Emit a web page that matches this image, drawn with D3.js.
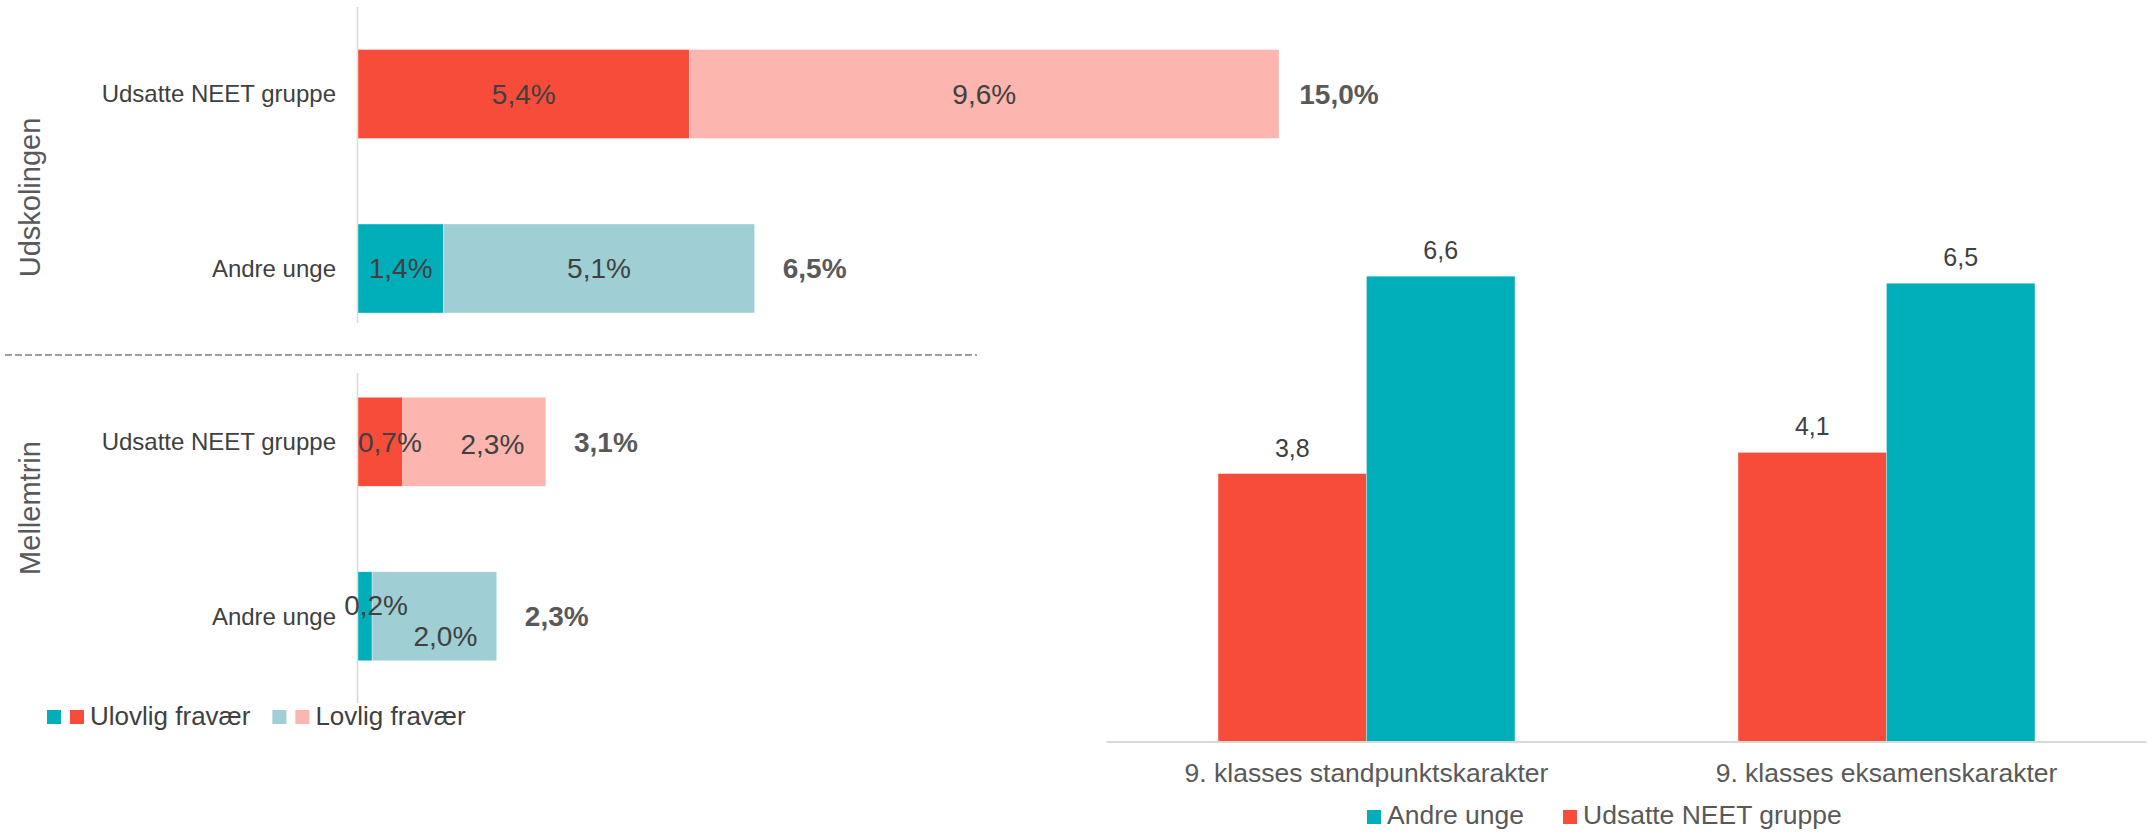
<!DOCTYPE html>
<html>
<head>
<meta charset="utf-8">
<script src="https://cdn.jsdelivr.net/npm/d3@7"></script>
<style>
  html, body { margin: 0; padding: 0; background: #ffffff; }
  svg { display: block; font-family: "Liberation Sans", Arial, Helvetica, sans-serif; }
</style>
</head>
<body>
<svg id="chart" width="2154" height="832"></svg>
<script>
// ---------------- DATA ----------------
const leftGroups = ["Udskolingen", "Mellemtrin"];
const leftCategories = ["Udsatte NEET gruppe", "Andre unge"];
const leftSeries = ["Ulovlig fravær", "Lovlig fravær"];
const ulovligUdskolingen = [5.4, 1.39];
const lovligUdskolingen = [9.6, 5.07];
const ulovligMellemtrin = [0.73, 0.23];
const lovligMellemtrin = [2.33, 2.03];

const rightCategories = ["9. klasses standpunktskarakter", "9. klasses eksamenskarakter"];
const rightSeries = ["Udsatte NEET gruppe", "Andre unge"];
const udsatteKarakter = [3.8, 4.1];
const andreKarakter = [6.6, 6.5];
const rightLegendOrder = ["Andre unge", "Udsatte NEET gruppe"];

// ---------------- STYLE ----------------
const RED = "#F84C3B", PINK = "#FDB5AF", TEAL = "#00AEB9", LTEAL = "#9FCFD4";
const catColors = {
  "Udsatte NEET gruppe": { "Ulovlig fravær": RED, "Lovlig fravær": PINK },
  "Andre unge": { "Ulovlig fravær": TEAL, "Lovlig fravær": LTEAL }
};
const DARK = "#404040", MID = "#595959", AXIS = "#D9D9D9";
const fmt1 = v => d3.format(".1f")(v).replace(".", ",");

const svg = d3.select("#chart");

// ---------------- LEFT: stacked horizontal bars ----------------
const x = d3.scaleLinear().domain([0, 15]).range([358, 1279]);

const panels = [
  { group: leftGroups[0], ulovlig: ulovligUdskolingen, lovlig: lovligUdskolingen, yRange: [6.75, 355.75], axis: [7, 323], labelY: 197.5 },
  { group: leftGroups[1], ulovlig: ulovligMellemtrin, lovlig: lovligMellemtrin, yRange: [354.5, 703.5], axis: [373, 703], labelY: 508 }
];

panels.forEach(p => {
  const y = d3.scaleBand().domain(leftCategories).range(p.yRange).paddingInner(0.49).paddingOuter(0.245);
  const g = svg.append("g");

  // axis line
  g.append("line")
    .attr("x1", x(0) - 0.5).attr("x2", x(0) - 0.5)
    .attr("y1", p.axis[0]).attr("y2", p.axis[1])
    .attr("stroke", AXIS).attr("stroke-width", 1.5);

  // category labels
  g.selectAll("text.cat").data(leftCategories).join("text")
    .attr("class", "cat")
    .attr("x", x(0) - 22)
    .attr("y", d => y(d) + y.bandwidth() / 2)
    .attr("dy", "0.35em")
    .attr("text-anchor", "end")
    .attr("font-size", 24)
    .attr("fill", DARK)
    .text(d => d);

  // group label (rotated)
  g.append("text")
    .attr("transform", `translate(40,${p.labelY}) rotate(-90)`)
    .attr("text-anchor", "middle")
    .attr("font-size", 29)
    .attr("fill", MID)
    .text(p.group);

  leftCategories.forEach((cat, i) => {
    const vals = [p.ulovlig[i], p.lovlig[i]];
    const segs = [];
    let acc = 0;
    vals.forEach((v, j) => {
      segs.push({ series: leftSeries[j], v, x0: acc, x1: acc + v });
      acc += v;
    });
    const total = acc;

    g.selectAll(null).data(segs).join("rect")
      .attr("x", d => x(d.x0))
      .attr("y", y(cat))
      .attr("width", d => x(d.x1) - x(d.x0))
      .attr("height", y.bandwidth())
      .attr("fill", d => catColors[cat][d.series])
      .attr("stroke", "#ffffff").attr("stroke-width", 0.6).attr("stroke-opacity", 0.6);

    // inner labels with Excel-like collision handling
    let carryDx = 0, carryDy = 0;
    segs.forEach(d => {
      const sw = x(d.x1) - x(d.x0);
      const t = g.append("text")
        .attr("text-anchor", "middle")
        .attr("font-size", 28)
        .attr("fill", DARK)
        .text(fmt1(d.v) + "%");
      const tw = t.node().getComputedTextLength();
      let dx = carryDx, dy = carryDy;
      carryDx = 0; carryDy = 0;
      if (sw < tw * 0.4) {
        dx += 11; dy -= 11; carryDy = 20; carryDx = 11;
      } else if (sw < tw) {
        const s = (tw - sw) / 2;
        dx += s; carryDx = s * 1.9; carryDy = 2;
      }
      t.attr("x", (x(d.x0) + x(d.x1)) / 2 + dx)
       .attr("y", y(cat) + y.bandwidth() / 2 + dy)
       .attr("dy", "0.35em");
    });

    // total label
    g.append("text")
      .attr("x", x(total) + 60)
      .attr("y", y(cat) + y.bandwidth() / 2)
      .attr("dy", "0.35em")
      .attr("text-anchor", "middle")
      .attr("font-size", 28)
      .attr("font-weight", "bold")
      .attr("fill", MID)
      .text(fmt1(total) + "%");
  });
});

// dashed separator
svg.append("line")
  .attr("x1", 5).attr("x2", 977).attr("y1", 355).attr("y2", 355)
  .attr("stroke", "#7F7F7F").attr("stroke-width", 1.3).attr("stroke-dasharray", "7,3");

// left legend
(function () {
  const lg = svg.append("g");
  let cx = 47;
  leftSeries.forEach(s => {
    [catColors["Andre unge"][s], catColors["Udsatte NEET gruppe"][s]].forEach((c, k) => {
      lg.append("rect").attr("x", cx).attr("y", 710).attr("width", 14).attr("height", 14).attr("fill", c);
      cx += 14 + (k === 0 ? 9 : 6);
    });
    const t = lg.append("text").attr("x", cx).attr("y", 725)
      .attr("font-size", 26).attr("fill", DARK).text(s);
    cx += t.node().getComputedTextLength() + 22;
  });
})();

// ---------------- RIGHT: grouped vertical bars ----------------
const xr = d3.scaleBand().domain(rightCategories).range([1106.5, 2146.5]).paddingInner(0.429).paddingOuter(0.2145);
const xs = d3.scaleBand().domain(rightSeries).range([0, xr.bandwidth()]).padding(0);
const yr = d3.scaleLinear().domain([0, 7]).range([741.5, 248]);
const rightColors = { "Udsatte NEET gruppe": RED, "Andre unge": TEAL };
const rightVals = { "Udsatte NEET gruppe": udsatteKarakter, "Andre unge": andreKarakter };

const rg = svg.append("g");
const rdata = [];
rightCategories.forEach((c, i) => rightSeries.forEach(s => rdata.push({ c, s, v: rightVals[s][i] })));

rg.selectAll("rect.rb").data(rdata).join("rect")
  .attr("class", "rb")
  .attr("x", d => xr(d.c) + xs(d.s))
  .attr("y", d => yr(d.v))
  .attr("width", xs.bandwidth())
  .attr("height", d => yr(0) - yr(d.v))
  .attr("fill", d => rightColors[d.s])
  .attr("stroke", "#ffffff").attr("stroke-width", 0.6).attr("stroke-opacity", 0.5);

rg.selectAll("text.rv").data(rdata).join("text")
  .attr("class", "rv")
  .attr("x", d => xr(d.c) + xs(d.s) + xs.bandwidth() / 2)
  .attr("y", d => yr(d.v) - 17)
  .attr("text-anchor", "middle")
  .attr("font-size", 25)
  .attr("fill", DARK)
  .text(d => fmt1(d.v));

// baseline axis
rg.append("line")
  .attr("x1", xr.range()[0]).attr("x2", xr.range()[1])
  .attr("y1", yr(0) + 0.5).attr("y2", yr(0) + 0.5)
  .attr("stroke", AXIS).attr("stroke-width", 2);

rg.selectAll("text.rc").data(rightCategories).join("text")
  .attr("class", "rc")
  .attr("x", d => xr(d) + xr.bandwidth() / 2)
  .attr("y", 782)
  .attr("text-anchor", "middle")
  .attr("font-size", 26.5)
  .attr("fill", MID)
  .text(d => d);

// right legend
(function () {
  let cx = 1367;
  rightLegendOrder.forEach(s => {
    rg.append("rect").attr("x", cx).attr("y", 810).attr("width", 14).attr("height", 14).attr("fill", rightColors[s]);
    cx += 20;
    const t = rg.append("text").attr("x", cx).attr("y", 824)
      .attr("font-size", 26.5).attr("fill", MID).text(s);
    cx += t.node().getComputedTextLength() + 39;
  });
})();
</script>
</body>
</html>
